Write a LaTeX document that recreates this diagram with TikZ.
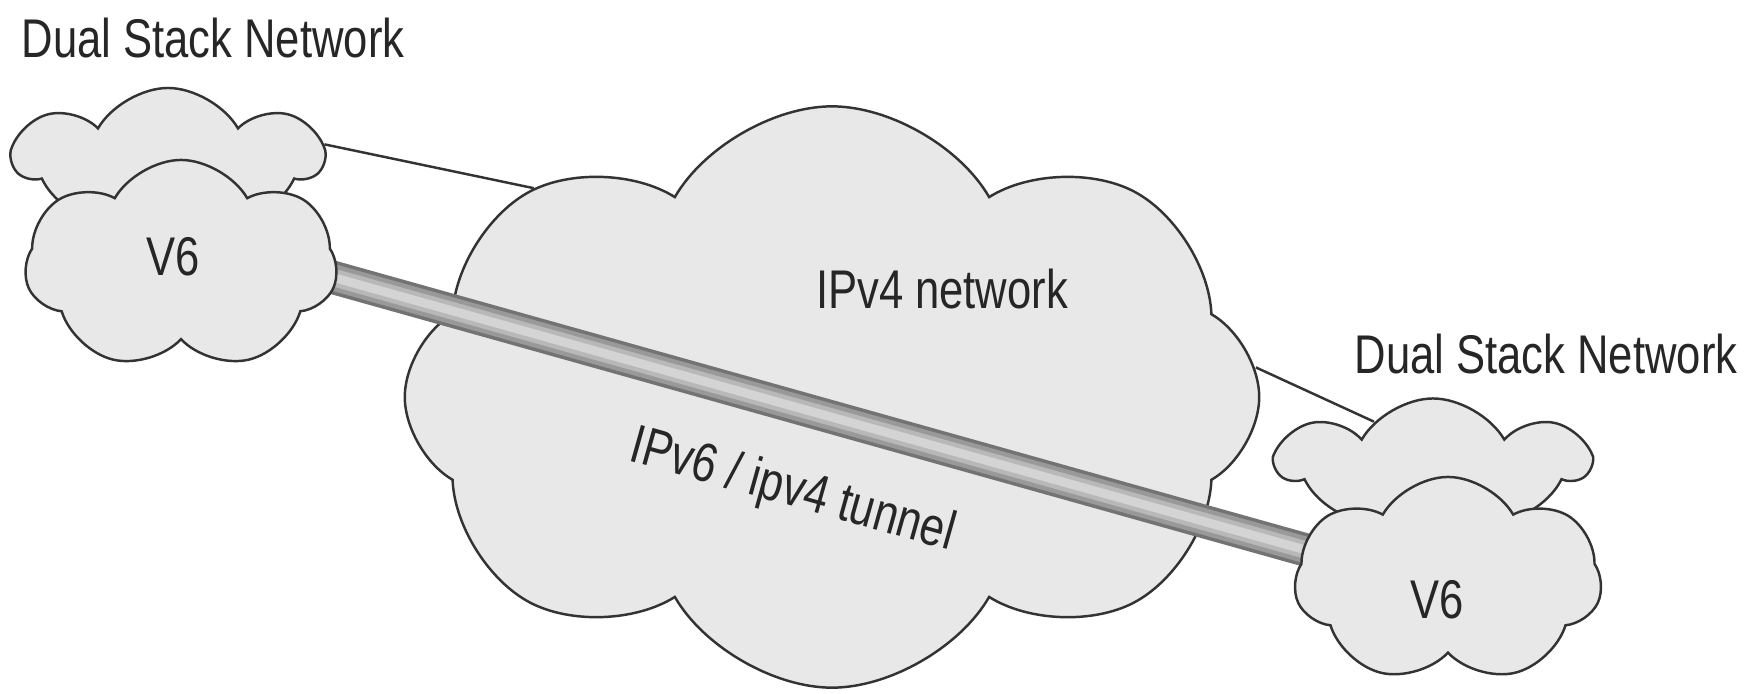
\documentclass[tikz,border=0pt]{standalone}
\usepackage{fontspec}
\setmainfont{Liberation Sans}[FakeStretch=0.8]
\usetikzlibrary{shapes.symbols}
\pgfdeclarelayer{bg}
\pgfdeclarelayer{mid}
\pgfsetlayers{bg,mid,main}

\begin{document}
\begin{tikzpicture}[
  x=0.01cm, y=-0.01cm,
  netcloud/.style={
    cloud, cloud puffs=7, cloud puff arc=120, cloud ignores aspect,
    draw=black!80, fill=black!9, line width=0.7pt, inner sep=0pt
  },
  caption/.style={
    font=\fontsize{15.5}{18}\selectfont, text=black!85, inner sep=0pt
  },
  link/.style={draw=black!80, line width=0.7pt},
  tubeedge/.style={draw=black!55, line width=9.5pt},
  tubemid/.style={draw=black!40, line width=7.5pt},
  tubebody/.style={draw=black!28, line width=5pt},
  tubeglow/.style={draw=black!17, line width=2.5pt},
]

\useasboundingbox (0,0) rectangle (1762,693);

%% Core IPv4 cloud (kept on the bottom layer)
\begin{pgfonlayer}{bg}
\node[netcloud, cloud puffs=8, minimum width=8.54cm, minimum height=5.81cm,
      label={[caption, xshift=1.10cm, yshift=1.08cm]center:IPv4 network}]
      (ipv4) at (832,397) {};
\end{pgfonlayer}

%% Dual stack sites (back cloud, then front V6 cloud)
\node[netcloud, minimum width=3.07cm, minimum height=1.40cm] (lback) at (168,158) {};
\node[netcloud, minimum width=3.12cm, minimum height=2.10cm,
      label={[caption, xshift=-0.08cm, yshift=0.08cm]center:V6}] (lfront) at (181,265) {};

\node[netcloud, minimum width=3.09cm, minimum height=1.29cm] (rback) at (1433,463) {};
\node[netcloud, minimum width=3.07cm, minimum height=2.06cm,
      label={[caption, xshift=-0.11cm, yshift=-0.20cm]center:V6}] (rfront) at (1448,580) {};

%% Site captions
\node[caption] (ltitle) at (213,38)  {Dual Stack Network};
\node[caption] (rtitle) at (1546,354) {Dual Stack Network};

%% Links and tunnel between the layers
\begin{pgfonlayer}{mid}
\draw[link] (lback.5)  -- (ipv4.145);
\draw[link] (ipv4.4)   -- (rback.145);

\draw[tubeedge] ([yshift=8.6pt]lfront.center) -- ([yshift=-2.8pt]rfront.center);
\draw[tubemid]  ([yshift=8.6pt]lfront.center) -- ([yshift=-2.8pt]rfront.center);
\draw[tubebody] ([yshift=8.6pt]lfront.center) -- ([yshift=-2.8pt]rfront.center);
\draw[tubeglow] ([yshift=8.6pt]lfront.center) -- ([yshift=-2.8pt]rfront.center)
  node[caption, midway, sloped, below=15pt] (tunlabel) {IPv6 / ipv4 tunnel};
\end{pgfonlayer}

\end{tikzpicture}
\end{document}
